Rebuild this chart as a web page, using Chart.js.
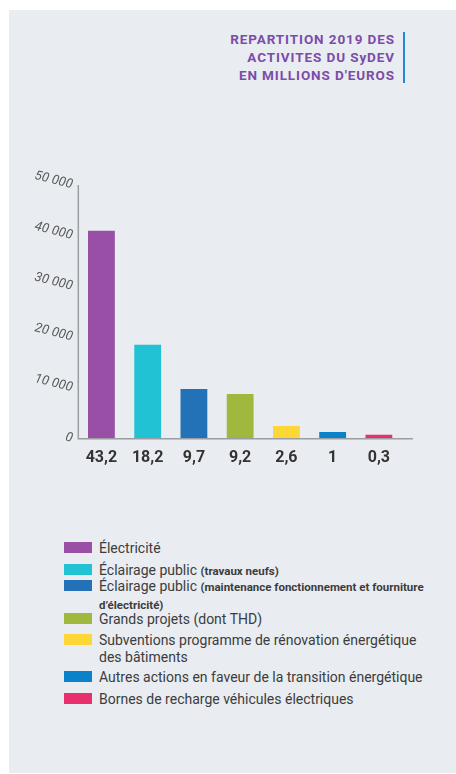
<!DOCTYPE html>
<html>
<head>
<meta charset="utf-8">
<script src="https://cdn.jsdelivr.net/npm/chart.js@4"></script>
<style>
	html, body { margin: 0; padding: 0; background: #ffffff; }
	#panel { position: absolute; left: 9px; top: 10px; width: 447px; height: 763px; background: #e9ecf1; overflow: hidden; }
	#title { position: absolute; right: 61px; top: 20px; text-align: right; color: #7b4ca8; font-family: Roboto, sans-serif; font-weight: 700; font-size: 13.5px; line-height: 18px; letter-spacing: 0.9px; }
	#bar { position: absolute; left: 394px; top: 22px; width: 2px; height: 51px; background: #1b8bd6; }
	#chartbox { position: absolute; left: 0; top: 140px; }
	.item { position: absolute; left: 90px; width: 332px; font-family: Roboto, sans-serif; font-size: 14px; line-height: 16.5px; color: #3c3c3c; }
	.item i { position: absolute; left: -35px; top: 2px; width: 28px; height: 11px; }
	.item small { font-size: 11.5px; font-weight: 700; color: #3c3c3c; }
</style>
</head>
<body>
<div id="panel">
	<div id="title">REPARTITION 2019 DES<br>ACTIVITES DU SyDEV<br>EN MILLIONS D'EUROS</div>
	<div id="bar"></div>
	<div id="chartbox"><canvas id="chart" width="447" height="350"></canvas></div>
	<div id="legend"></div>
</div>
<script>
// amounts shown under the bars (millions of euros)
const categories = ['43,2', '18,2', '9,7', '9,2', '2,6', '1', '0,3'];
// bar heights as read on the 0 - 50 000 axis
const barValues = [41000, 18500, 9800, 8800, 2500, 1300, 800];
const yTicks = [0, 10000, 20000, 30000, 40000, 50000];
const barColors = ['#9a4fa7', '#22c2d5', '#2371b6', '#a0b83d', '#fdd638', '#0a82c9', '#e8306f'];
const legendNames = [
	'Électricité',
	'Éclairage public',
	'Éclairage public',
	'Grands projets (dont THD)',
	'Subventions programme de rénovation énergétique des bâtiments',
	'Autres actions en faveur de la transition énergétique',
	'Bornes de recharge véhicules électriques'
];
const legendNotes = ['', '(travaux neufs)', '(maintenance fonctionnement et fourniture d\u2019électricité)', '', '', '', ''];

// legend rows, top of each row in the panel
const legendTops = [530, 552, 568, 601, 622, 659, 681];
const legend = document.getElementById('legend');
legendNames.forEach((name, i) => {
	const div = document.createElement('div');
	div.className = 'item';
	div.style.top = legendTops[i] + 'px';
	div.innerHTML = `<i style="background:${barColors[i]}"></i>${name}${legendNotes[i] ? ' <small>' + legendNotes[i] + '</small>' : ''}`;
	legend.appendChild(div);
});

// plain axis lines, the x one runs a bit past the last bar
const axisLines = {
	id: 'axisLines',
	afterDraw(chart) {
		const {ctx, chartArea} = chart;
		ctx.save();
		ctx.strokeStyle = '#9a9ea3';
		ctx.lineWidth = 1.5;
		ctx.beginPath();
		ctx.moveTo(chartArea.left, chartArea.top);
		ctx.lineTo(chartArea.left, chartArea.bottom);
		ctx.lineTo(chartArea.right + 11, chartArea.bottom);
		ctx.stroke();
		ctx.restore();
	}
};

new Chart(document.getElementById('chart'), {
	type: 'bar',
	data: {
		labels: categories,
		datasets: [{
			data: barValues,
			backgroundColor: barColors,
			borderWidth: 0,
			barPercentage: 0.58,
			categoryPercentage: 1
		}]
	},
	options: {
		responsive: false,
		animation: false,
		layout: { padding: { top: 35, right: 54, left: 0, bottom: 0 } },
		plugins: { legend: { display: false }, tooltip: { enabled: false } },
		scales: {
			x: {
				grid: { display: false, drawTicks: false },
				border: { display: false },
				ticks: {
					padding: 10,
					color: '#333333',
					font: { family: 'Roboto, sans-serif', size: 16, weight: 'bold' }
				},
				afterFit(scale) { scale.height = 61.3; }
			},
			y: {
				min: 0,
				max: 50000,
				afterBuildTicks(scale) { scale.ticks = yTicks.map(v => ({value: v})); },
				grid: { display: false, drawTicks: false },
				border: { display: false },
				ticks: {
					padding: 6,
					minRotation: -14,
					maxRotation: -14,
					color: '#5a5a5a',
					font: { family: 'Roboto, sans-serif', size: 13, style: 'italic' },
					callback: v => v === 0 ? '0' : String(v).replace(/(\d)(?=(\d{3})+$)/g, '$1 ')
				},
				afterFit(scale) { scale.width = 69.3; }
			}
		}
	},
	plugins: [axisLines]
});
</script>
</body>
</html>
